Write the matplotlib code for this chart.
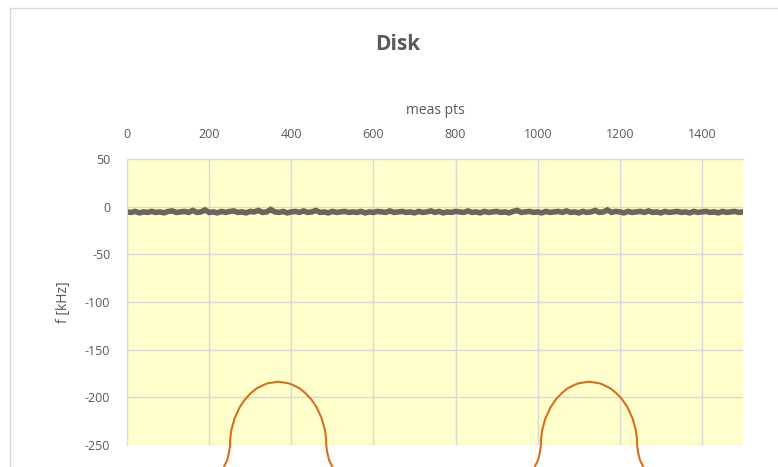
import matplotlib
matplotlib.use("Agg")
import matplotlib.pyplot as plt
from matplotlib.patches import Rectangle

plt.rcParams['font.family'] = ['Open Sans', 'DejaVu Sans']
plt.rcParams['axes.unicode_minus'] = False

# x ticks / y ticks
x_ticks = [0, 200, 400, 600, 800, 1000, 1200, 1400]
y_ticks = [50, 0, -50, -100, -150, -200, -250]

disk_x = list(range(0, 1501, 10))
disk_f = [-5.5, -6, -5, -6.5, -5.5, -6, -5, -6, -5.5, -6.5, -5, -4.5,
          -6, -5.5, -5, -6, -4, -6, -5.5, -3.5, -6, -5.5, -6.5, -5,
          -6, -5, -4.5, -6, -5.5, -6.5, -5, -5.5, -4, -6, -5.5, -3,
          -5.5, -6, -5, -6.5, -5.5, -5, -6, -4.5, -6, -5.5, -4, -6,
          -5.5, -6.5, -5, -6, -5.5, -5, -6, -5.5, -6, -5, -6.5, -5.5,
          -6, -5, -5.5, -6, -4.5, -6, -5.5, -5, -6, -5.5, -6.5, -5,
          -6, -5.5, -4.5, -6, -5, -6.5, -5.5, -6, -5, -5.5, -6, -4.5,
          -6, -5.5, -6.5, -5, -6, -5.5, -5, -6, -5.5, -6.5, -5, -4,
          -6, -5.5, -5, -6, -5.5, -6.5, -5, -6, -5.5, -5, -6, -4.5,
          -6, -5.5, -6.5, -5, -6, -5.5, -4, -6, -5.5, -3.5, -6, -5,
          -5.5, -6.5, -5, -6, -5.5, -5, -6, -4.5, -6, -5.5, -6.5, -5,
          -6, -5.5, -5, -6, -5.5, -6.5, -5, -6, -5.5, -5, -6, -5.5,
          -6.5, -5, -6, -5.5, -5, -6, -5.5]

# orange series: two resonance arches (extend below the plot area)
arch1_x = [227, 238, 244, 248, 251, 251, 254, 262, 275, 288, 301, 316, 332,
           342, 368, 394, 404, 420, 435, 448, 461, 474, 482, 485, 485, 488,
           492, 498, 509]
arch1_f = [-281.5, -271, -265.8, -258.7, -250, -244.8, -234.3, -222, -209.9,
           -201.8, -195.8, -190.5, -187.1, -185.3, -183.6, -185.3, -187.1,
           -190.5, -195.8, -201.8, -209.9, -222, -234.3, -244.8, -250,
           -258.7, -265.8, -271, -281.5]
arch2_x = [984, 995, 1001, 1005, 1008, 1008, 1011, 1019, 1032, 1045, 1058,
           1073, 1089, 1099, 1125, 1151, 1161, 1177, 1192, 1205, 1218, 1231,
           1239, 1242, 1242, 1245, 1249, 1255, 1266]
arch2_f = arch1_f

fig = plt.figure(figsize=(7.78, 4.67), dpi=100)
fig.patches.append(Rectangle((10 / 778, -0.1), 1.1, 1 - 8 / 467 + 0.1,
                             transform=fig.transFigure, fill=False,
                             edgecolor='#d9d9d9', linewidth=1))

ax = fig.add_axes([127 / 778, 22 / 467, 616 / 778, 286 / 467])
ax.set_facecolor('#ffffcc')
ax.set_xlim(0, 1500)
ax.set_ylim(-250, 50)
ax.set_xticks(x_ticks)
ax.set_yticks(y_ticks)
ax.xaxis.tick_top()
ax.xaxis.set_label_position('top')
ax.tick_params(length=0, labelsize=9, labelcolor='#595959')
ax.tick_params(axis='x', pad=13)
ax.tick_params(axis='y', pad=12)
ax.grid(True, color='#d9d9d9', linewidth=1)
ax.set_axisbelow(True)
for side in ['right', 'bottom']:
    ax.spines[side].set_visible(False)
for side in ['left', 'top']:
    ax.spines[side].set_color('#d9d9d9')

ax.plot(disk_x, disk_f, color='#6b655c', linewidth=4, solid_joinstyle='miter')
ax.plot(arch1_x, arch1_f, color='#d86f1b', linewidth=1.5, clip_on=False)
ax.plot(arch2_x, arch2_f, color='#d86f1b', linewidth=1.5, clip_on=False)

ax.set_xlabel('meas pts', fontsize=10, color='#595959', labelpad=10)
ax.set_ylabel('f [kHz]', fontsize=10, color='#595959', labelpad=10)

fig.text(398 / 778, 1 - 44 / 467, 'Disk', ha='center', va='center',
         fontsize=15, fontweight='bold', color='#595959')

fig.savefig('out.png', dpi=100)
